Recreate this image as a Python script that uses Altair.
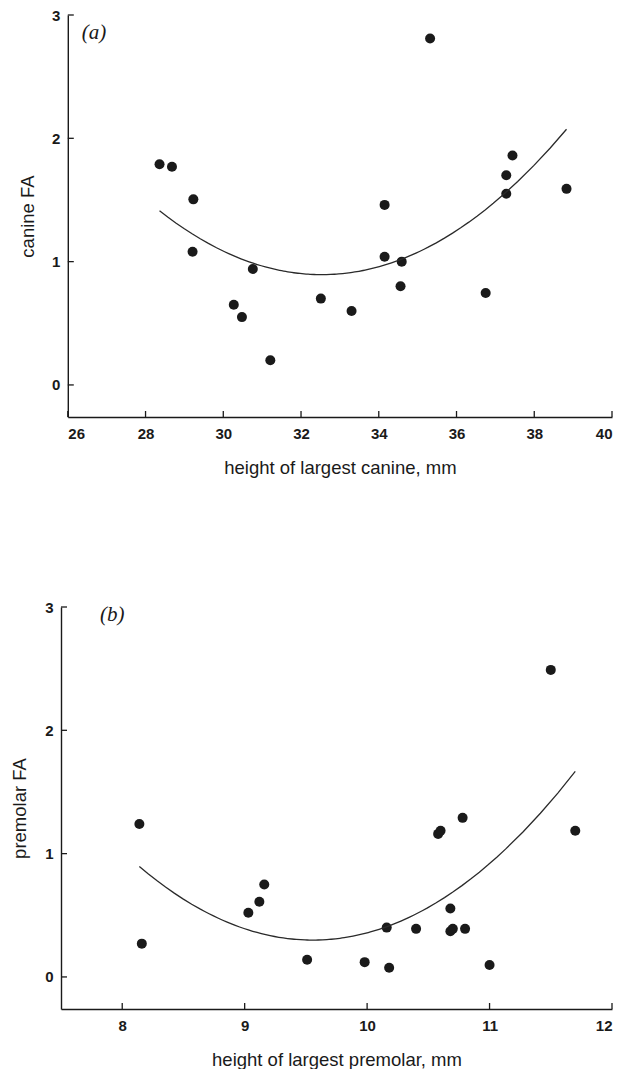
import altair as alt
import pandas as pd

# ---- data ----
canine_height = [28.36, 28.68, 29.23, 29.21, 30.76, 30.27, 30.48, 31.21, 32.51, 33.30,
                 34.15, 34.15, 34.59, 34.56, 35.32, 36.75, 37.28, 37.28, 37.44, 38.83]
canine_fa = [1.79, 1.77, 1.505, 1.08, 0.94, 0.65, 0.55, 0.20, 0.70, 0.60,
             1.46, 1.04, 1.00, 0.80, 2.81, 0.745, 1.70, 1.55, 1.86, 1.59]

premolar_height = [8.14, 8.16, 9.03, 9.12, 9.16, 9.51, 9.98, 10.18, 10.16, 10.40,
                   10.58, 10.60, 10.78, 10.68, 10.68, 10.70, 10.80, 11.00, 11.70, 11.50]
premolar_fa = [1.24, 0.27, 0.52, 0.61, 0.75, 0.14, 0.12, 0.075, 0.40, 0.39,
               1.16, 1.185, 1.29, 0.555, 0.37, 0.39, 0.39, 0.097, 1.185, 2.49]

canine_xticks = [26, 28, 30, 32, 34, 36, 38, 40]
premolar_xticks = [8, 9, 10, 11, 12]
fa_ticks = [0, 1, 2, 3]

INK = "#1a1a1a"
W = 551
H = 402


def panel(xs, ys, xdom, xticks, xtitle, ytitle, label, inset, lab_x, lab_y, ytp):
    df = pd.DataFrame({"x": xs, "y": ys})
    xsc = alt.Scale(domain=xdom, nice=False, zero=False, range=[inset, W])
    ysc = alt.Scale(domain=[-0.26, 3], nice=False, zero=False)
    xax = alt.Axis(values=xticks, title=xtitle, labelPadding=9, titlePadding=17.5)
    yax = alt.Axis(values=fa_ticks, title=ytitle, labelPadding=8,
                   titlePadding=ytp, offset=-inset)
    base = alt.Chart(df)
    pts = base.mark_circle(size=100, color=INK, opacity=1).encode(
        x=alt.X("x:Q", scale=xsc, axis=xax),
        y=alt.Y("y:Q", scale=ysc, axis=yax),
    )
    fit = base.transform_regression("x", "y", method="poly", order=2).mark_line(
        color="#2a2a2a", strokeWidth=1.3
    ).encode(x=alt.X("x:Q", axis=xax), y=alt.Y("y:Q", axis=yax))
    ytk = alt.Chart(pd.DataFrame({"v": fa_ticks})).mark_rule(
        color=INK, strokeWidth=1.3
    ).encode(y=alt.Y("v:Q", axis=yax), x=alt.value(inset), x2=alt.value(inset + 6))
    xtk = alt.Chart(pd.DataFrame({"v": xticks})).mark_rule(
        color=INK, strokeWidth=1.3
    ).encode(x=alt.X("v:Q", axis=xax), y=alt.value(H), y2=alt.value(H - 6))
    lab = alt.Chart(pd.DataFrame({"t": [label]})).mark_text(
        font="Liberation Serif", fontStyle="italic", fontSize=21,
        align="left", baseline="middle", color=INK
    ).encode(text="t:N", x=alt.value(inset + lab_x), y=alt.value(lab_y))
    return alt.layer(pts, fit, ytk, xtk, lab).properties(width=W, height=H)


top = panel(canine_height, canine_fa, [26, 40], canine_xticks,
            "height of largest canine, mm", "canine FA", "(a)",
            6.8, 14, 18, 13.5)
bottom = panel(premolar_height, premolar_fa, [7.5, 12], premolar_xticks,
               "height of largest premolar, mm", "premolar FA", "(b)",
               0, 39, 8, 15.5)

chart = alt.vconcat(top, bottom, spacing=123).properties(
    padding={"left": 2, "top": 0, "right": 5, "bottom": 0}
).configure_view(stroke=None).configure_axis(
    grid=False,
    domain=True,
    domainColor=INK,
    domainWidth=1.4,
    ticks=False,
    labelFont="Liberation Sans",
    labelFontSize=15,
    labelFontWeight="bold",
    labelColor=INK,
    titleFont="Liberation Sans",
    titleFontSize=18.5,
    titleFontWeight="normal",
    titleColor=INK,
)

chart.save("out.html", embed_options={"renderer": "svg", "actions": False})
